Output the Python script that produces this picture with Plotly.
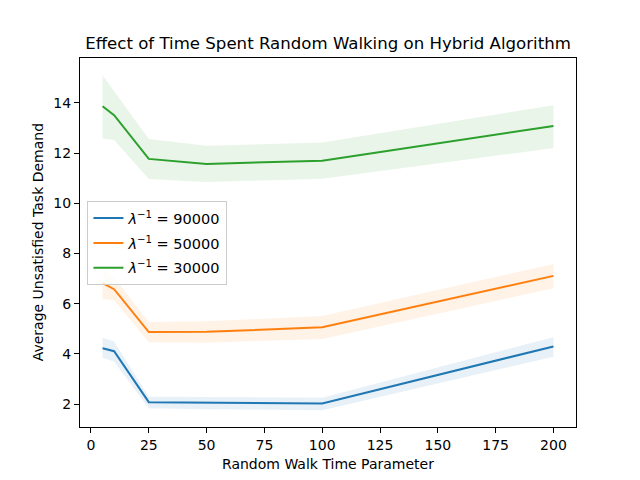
import plotly.graph_objects as go

# Random walk time parameter
walk_time = [5, 10, 25, 50, 100, 200]

# mean demand and band (lower / upper) for each lambda^-1
mean_90000 = [4.23, 4.11, 2.08, 2.06, 2.03, 4.30]
low_90000 = [3.85, 3.70, 1.84, 1.80, 1.76, 3.89]
high_90000 = [4.65, 4.50, 2.30, 2.28, 2.26, 4.67]

mean_50000 = [6.82, 6.58, 4.87, 4.88, 5.06, 7.11]
low_50000 = [6.19, 6.15, 4.47, 4.45, 4.60, 6.62]
high_50000 = [7.45, 7.05, 5.27, 5.30, 5.51, 7.58]

mean_30000 = [13.87, 13.51, 11.77, 11.57, 11.70, 13.08]
low_30000 = [12.58, 12.52, 10.97, 10.85, 10.98, 12.20]
high_30000 = [15.10, 14.47, 12.56, 12.29, 12.42, 13.91]

labels = ["<i>λ</i><sup>−1</sup> = 90000",
          "<i>λ</i><sup>−1</sup> = 50000",
          "<i>λ</i><sup>−1</sup> = 30000"]
colors = ["#1f77b4", "#ff7f0e", "#2ca02c"]
fills = ["rgba(31,119,180,0.1)", "rgba(255,127,14,0.1)", "rgba(44,160,44,0.1)"]

series = [
    (mean_90000, low_90000, high_90000),
    (mean_50000, low_50000, high_50000),
    (mean_30000, low_30000, high_30000),
]

fig = go.Figure()

# bands first so the lines sit on top
for (mean, low, high), fc in zip(series, fills):
    fig.add_trace(go.Scatter(x=walk_time, y=high, mode='lines',
                             line=dict(width=0), showlegend=False,
                             hoverinfo='skip'))
    fig.add_trace(go.Scatter(x=walk_time, y=low, mode='lines',
                             line=dict(width=0), fill='tonexty',
                             fillcolor=fc, showlegend=False,
                             hoverinfo='skip'))

for i, ((mean, low, high), name, c) in enumerate(zip(series, labels, colors)):
    fig.add_trace(go.Scatter(x=walk_time, y=mean, mode='lines', name=name,
                             legendgroup=f'g{i}',
                             line=dict(color=c, width=2)))

axis_style = dict(
    showline=True, linecolor='black', linewidth=1, mirror=True,
    ticks='outside', ticklen=5, tickcolor='black', showgrid=False,
    zeroline=False, automargin=False, tickfont=dict(size=14, color='black'),
)

fig.update_layout(
    width=640, height=480,
    template='plotly_white',
    font=dict(family='DejaVu Sans', color='black'),
    title=dict(text='Effect of Time Spent Random Walking on Hybrid Algorithm',
               x=0.5, xanchor='center', y=0.927, yanchor='middle',
               font=dict(size=16.6, color='black')),
    # page has an 8px body margin, so the plot box is placed 8px up/left
    margin=dict(l=72, r=72, t=50, b=61),
    paper_bgcolor='white', plot_bgcolor='white',
    xaxis=dict(axis_style, range=[-4.75, 209.75],
               tickvals=[0, 25, 50, 75, 100, 125, 150, 175, 200]),
    yaxis=dict(axis_style, range=[1.09, 15.79],
               tickvals=[2, 4, 6, 8, 10, 12, 14]),
    legend=dict(x=0.015, y=0.612, xanchor='left', yanchor='top',
                traceorder='grouped', tracegroupgap=3, itemwidth=30,
                bgcolor='rgba(255,255,255,0.8)', bordercolor='#cccccc',
                borderwidth=1, font=dict(size=14.5)),
    annotations=[
        dict(text='Random Walk Time Parameter', xref='paper', yref='paper',
             x=0.5, y=-0.1, xanchor='center', yanchor='middle',
             showarrow=False, font=dict(size=14)),
        dict(text='Average Unsatisfied Task Demand', xref='paper', yref='paper',
             x=-0.085, y=0.5, xanchor='center', yanchor='middle',
             textangle=-90, showarrow=False, font=dict(size=14)),
    ],
)

fig.write_html("out.html")
